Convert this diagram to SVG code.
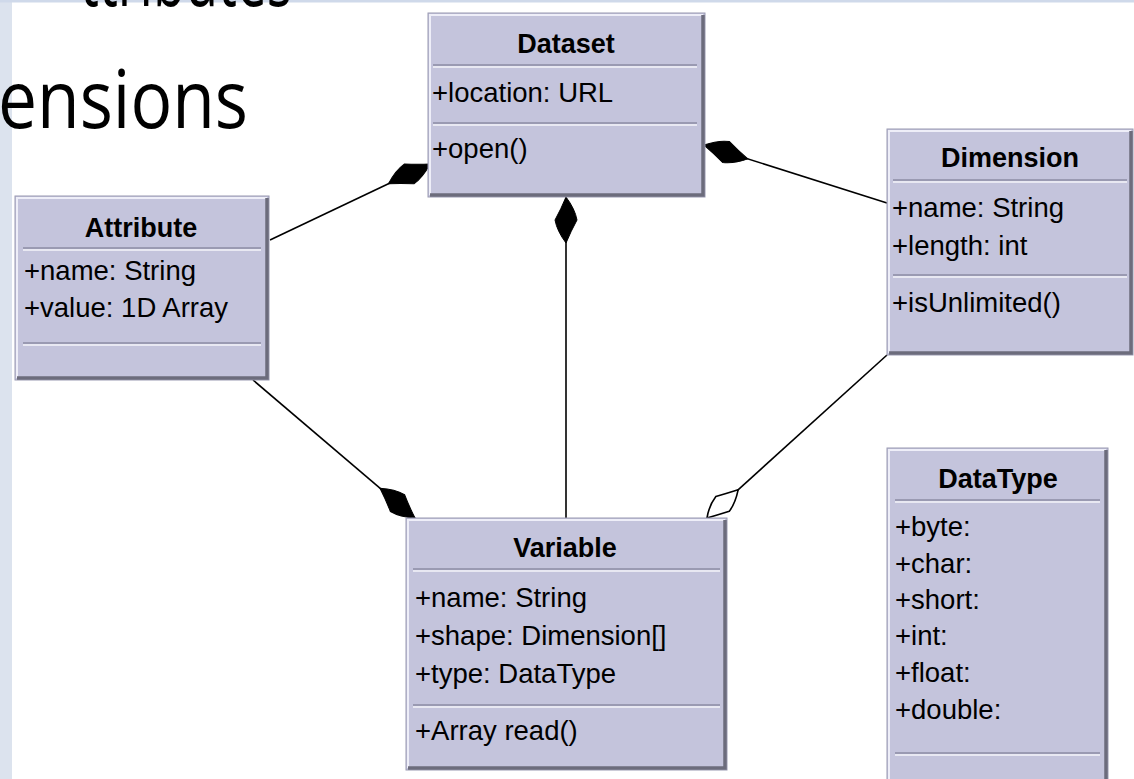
<svg xmlns="http://www.w3.org/2000/svg" width="1134" height="779" viewBox="0 0 1134 779">
<style>
.box{fill:#c4c4dc;stroke:#9a9ab2;stroke-width:1}
.hl{stroke:#eeeef8;stroke-width:2;fill:none}
.sh{stroke:#6c6c7c;stroke-width:3.5;fill:none}
.sepd{stroke:#8c8ca4;stroke-width:1.5}
.sepl{stroke:#f4f4fa;stroke-width:1.5}
.title{font-family:"Liberation Sans",Arial,sans-serif;font-weight:bold;font-size:27px;fill:#000;text-anchor:middle}
.row{font-family:"Liberation Sans",Arial,sans-serif;font-size:27.5px;fill:#000}
.slide{font-family:"Open Sans","Noto Sans",sans-serif;font-size:80px;fill:#000}
.conn{stroke:#000;stroke-width:1.6;fill:none}
</style>
<defs>
<marker id="dFill" markerUnits="userSpaceOnUse" markerWidth="60" markerHeight="40" refX="0" refY="0" orient="auto" overflow="visible">
<path d="M0,0 Q12,-9 23,-11 Q34,-5 46,0 Q34,9 23,11 Q12,5 0,0 Z" fill="#000" stroke="#000" stroke-width="1"/>
</marker>
<marker id="dHollow" markerUnits="userSpaceOnUse" markerWidth="60" markerHeight="40" refX="0" refY="0" orient="auto" overflow="visible">
<path d="M0,0 Q10,-8 21,-10 Q31,-5 42,0 Q31,8 21,10 Q10,5 0,0 Z" fill="#fff" stroke="#000" stroke-width="1.6"/>
</marker>
</defs>
<rect x="0" y="0" width="1134" height="779" fill="#ffffff"/>
<rect x="0" y="0" width="12" height="779" fill="#dce3ee"/>
<rect x="0" y="0" width="1134" height="2.5" fill="#cfd9ea"/>
<text class="slide" x="80" y="6" textLength="212" lengthAdjust="spacingAndGlyphs">ttributes</text>
<text class="slide" x="-2" y="128" textLength="250" lengthAdjust="spacingAndGlyphs">ensions</text>

<g id="connectors">
<path class="conn" d="M430,164 L270,240" marker-start="url(#dFill)"/>
<path class="conn" d="M704,145 L887,203" marker-start="url(#dFill)"/>
<path class="conn" d="M566,197 L566,518" marker-start="url(#dFill)"/>
<path class="conn" d="M415,518 L253,380" marker-start="url(#dFill)"/>
<path class="conn" d="M707,518 L887,355" marker-start="url(#dHollow)"/>
</g>

<g id="dataset">
<rect class="box" x="428" y="13" width="277" height="184"/>
<path class="hl" d="M430,195 V15 H703"/>
<path class="sh" d="M703,15 V195 H430"/>
<text class="title" x="566" y="53">Dataset</text>
<line class="sepd" x1="433" y1="65" x2="697" y2="65"/><line class="sepl" x1="433" y1="67" x2="697" y2="67"/>
<text class="row" x="432" y="102">+location: URL</text>
<line class="sepd" x1="433" y1="123" x2="697" y2="123"/><line class="sepl" x1="433" y1="125" x2="697" y2="125"/>
<text class="row" x="432" y="158">+open()</text>
</g>

<g id="attribute">
<rect class="box" x="15" y="196" width="254" height="184"/>
<path class="hl" d="M17,378 V198 H267"/>
<path class="sh" d="M267,198 V378 H17"/>
<text class="title" x="141" y="237">Attribute</text>
<line class="sepd" x1="23" y1="248" x2="261" y2="248"/><line class="sepl" x1="23" y1="250" x2="261" y2="250"/>
<text class="row" x="24" y="280">+name: String</text>
<text class="row" x="24" y="317">+value: 1D Array</text>
<line class="sepd" x1="23" y1="343" x2="261" y2="343"/><line class="sepl" x1="23" y1="345" x2="261" y2="345"/>
</g>

<g id="dimension">
<rect class="box" x="887" y="129" width="246" height="226"/>
<path class="hl" d="M889,353 V131 H1131"/>
<path class="sh" d="M1131,131 V353 H889"/>
<text class="title" x="1010" y="167">Dimension</text>
<line class="sepd" x1="893" y1="180" x2="1127" y2="180"/><line class="sepl" x1="893" y1="182" x2="1127" y2="182"/>
<text class="row" x="892" y="217">+name: String</text>
<text class="row" x="892" y="255">+length: int</text>
<line class="sepd" x1="893" y1="275" x2="1127" y2="275"/><line class="sepl" x1="893" y1="277" x2="1127" y2="277"/>
<text class="row" x="892" y="312">+isUnlimited()</text>
</g>

<g id="variable">
<rect class="box" x="406" y="518" width="321" height="252"/>
<path class="hl" d="M408,768 V520 H725"/>
<path class="sh" d="M725,520 V768 H408"/>
<text class="title" x="565" y="557">Variable</text>
<line class="sepd" x1="413" y1="569" x2="720" y2="569"/><line class="sepl" x1="413" y1="571" x2="720" y2="571"/>
<text class="row" x="415" y="607">+name: String</text>
<text class="row" x="415" y="645">+shape: Dimension[]</text>
<text class="row" x="415" y="683">+type: DataType</text>
<line class="sepd" x1="413" y1="705" x2="720" y2="705"/><line class="sepl" x1="413" y1="707" x2="720" y2="707"/>
<text class="row" x="415" y="740">+Array read()</text>
</g>

<g id="datatype">
<rect class="box" x="887" y="448" width="221" height="340"/>
<path class="hl" d="M889,786 V450 H1106"/>
<path class="sh" d="M1106,450 V786"/>
<text class="title" x="998" y="488">DataType</text>
<line class="sepd" x1="895" y1="500" x2="1100" y2="500"/><line class="sepl" x1="895" y1="502" x2="1100" y2="502"/>
<text class="row" x="895" y="536">+byte:</text>
<text class="row" x="895" y="573">+char:</text>
<text class="row" x="895" y="609">+short:</text>
<text class="row" x="895" y="645">+int:</text>
<text class="row" x="895" y="682">+float:</text>
<text class="row" x="895" y="719">+double:</text>
<line class="sepd" x1="895" y1="753" x2="1100" y2="753"/><line class="sepl" x1="895" y1="755" x2="1100" y2="755"/>
</g>
</svg>
